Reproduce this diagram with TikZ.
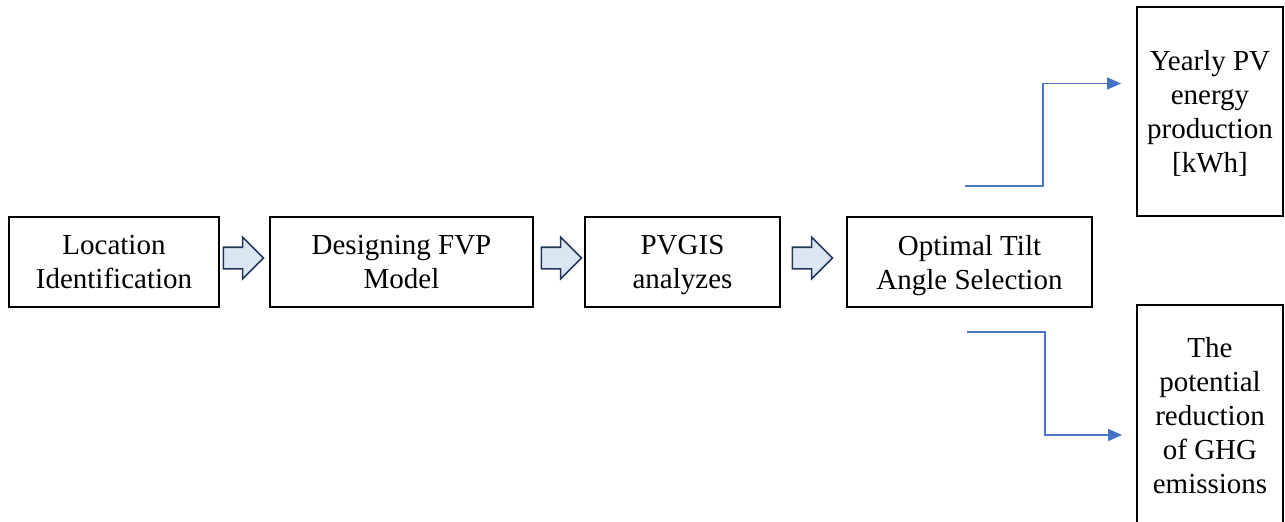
\documentclass[tikz,border=0pt]{standalone}
\usepackage{fontspec}
\setmainfont{Liberation Serif}
\usepackage{tikz}
\usetikzlibrary{arrows.meta,shapes.arrows}

\definecolor{flowblue}{HTML}{4A76C0}
\definecolor{tipblue}{HTML}{4472C4}
\definecolor{arrowfill}{HTML}{DCE6F2}
\definecolor{arrowline}{HTML}{22385F}

\begin{document}
\begin{tikzpicture}[x=1pt, y=-1pt,
    stepbox/.style={draw=black, line width=1.8pt, fill=white, align=center,
      inner sep=0pt, text depth=0pt, font=\fontsize{29}{34}\selectfont},
    blockarrow/.style={single arrow, draw=arrowline, fill=arrowfill, line width=1.6pt,
      inner xsep=0pt, inner ysep=10pt, text height=0pt, text depth=0pt,
      minimum height=40pt, single arrow head extend=10pt},
    conn/.style={draw=flowblue, line width=1.2pt,
      -{Triangle[length=14pt,width=12pt,color=tipblue]}}]
   \useasboundingbox (0,0) rectangle (1285,522);

   \node[stepbox, minimum width=210pt, minimum height=90pt] (loc) at (114,262) {Location\\Identification};
   \node[stepbox, minimum width=263pt, minimum height=90pt] (fvp) at (401.5,262) {Designing FVP\\Model};
   \node[stepbox, minimum width=195pt, minimum height=90pt] (pvgis) at (682.5,262) {PVGIS\\analyzes};
   \node[stepbox, minimum width=245pt, minimum height=90pt] (tilt) at (969.5,262) {Optimal Tilt\\Angle Selection};

   \node[stepbox, minimum width=146pt, minimum height=209pt, text depth=-10pt] (yearly) at (1210,111.5) {Yearly PV\\energy\\production\\{[kWh]}};
   \node[stepbox, minimum width=146pt, minimum height=220pt] (ghg) at (1210,415) {The\\potential\\reduction\\of GHG\\emissions};

   \node[blockarrow] (a1) at (238,258) {};
   \node[blockarrow] (a2) at (556,258) {};
   \node[blockarrow] (a3) at (807,258) {};

   \coordinate (upstart) at (965,186);
   \coordinate (downstart) at (967,332);

   \draw[conn] (upstart) -- (1043,186) |- ([xshift=-15pt,yshift=28pt]yearly.west);
   \draw[conn] (downstart) -- (1045,332) |- ([xshift=-14pt,yshift=-20pt]ghg.west);
\end{tikzpicture}
\end{document}
